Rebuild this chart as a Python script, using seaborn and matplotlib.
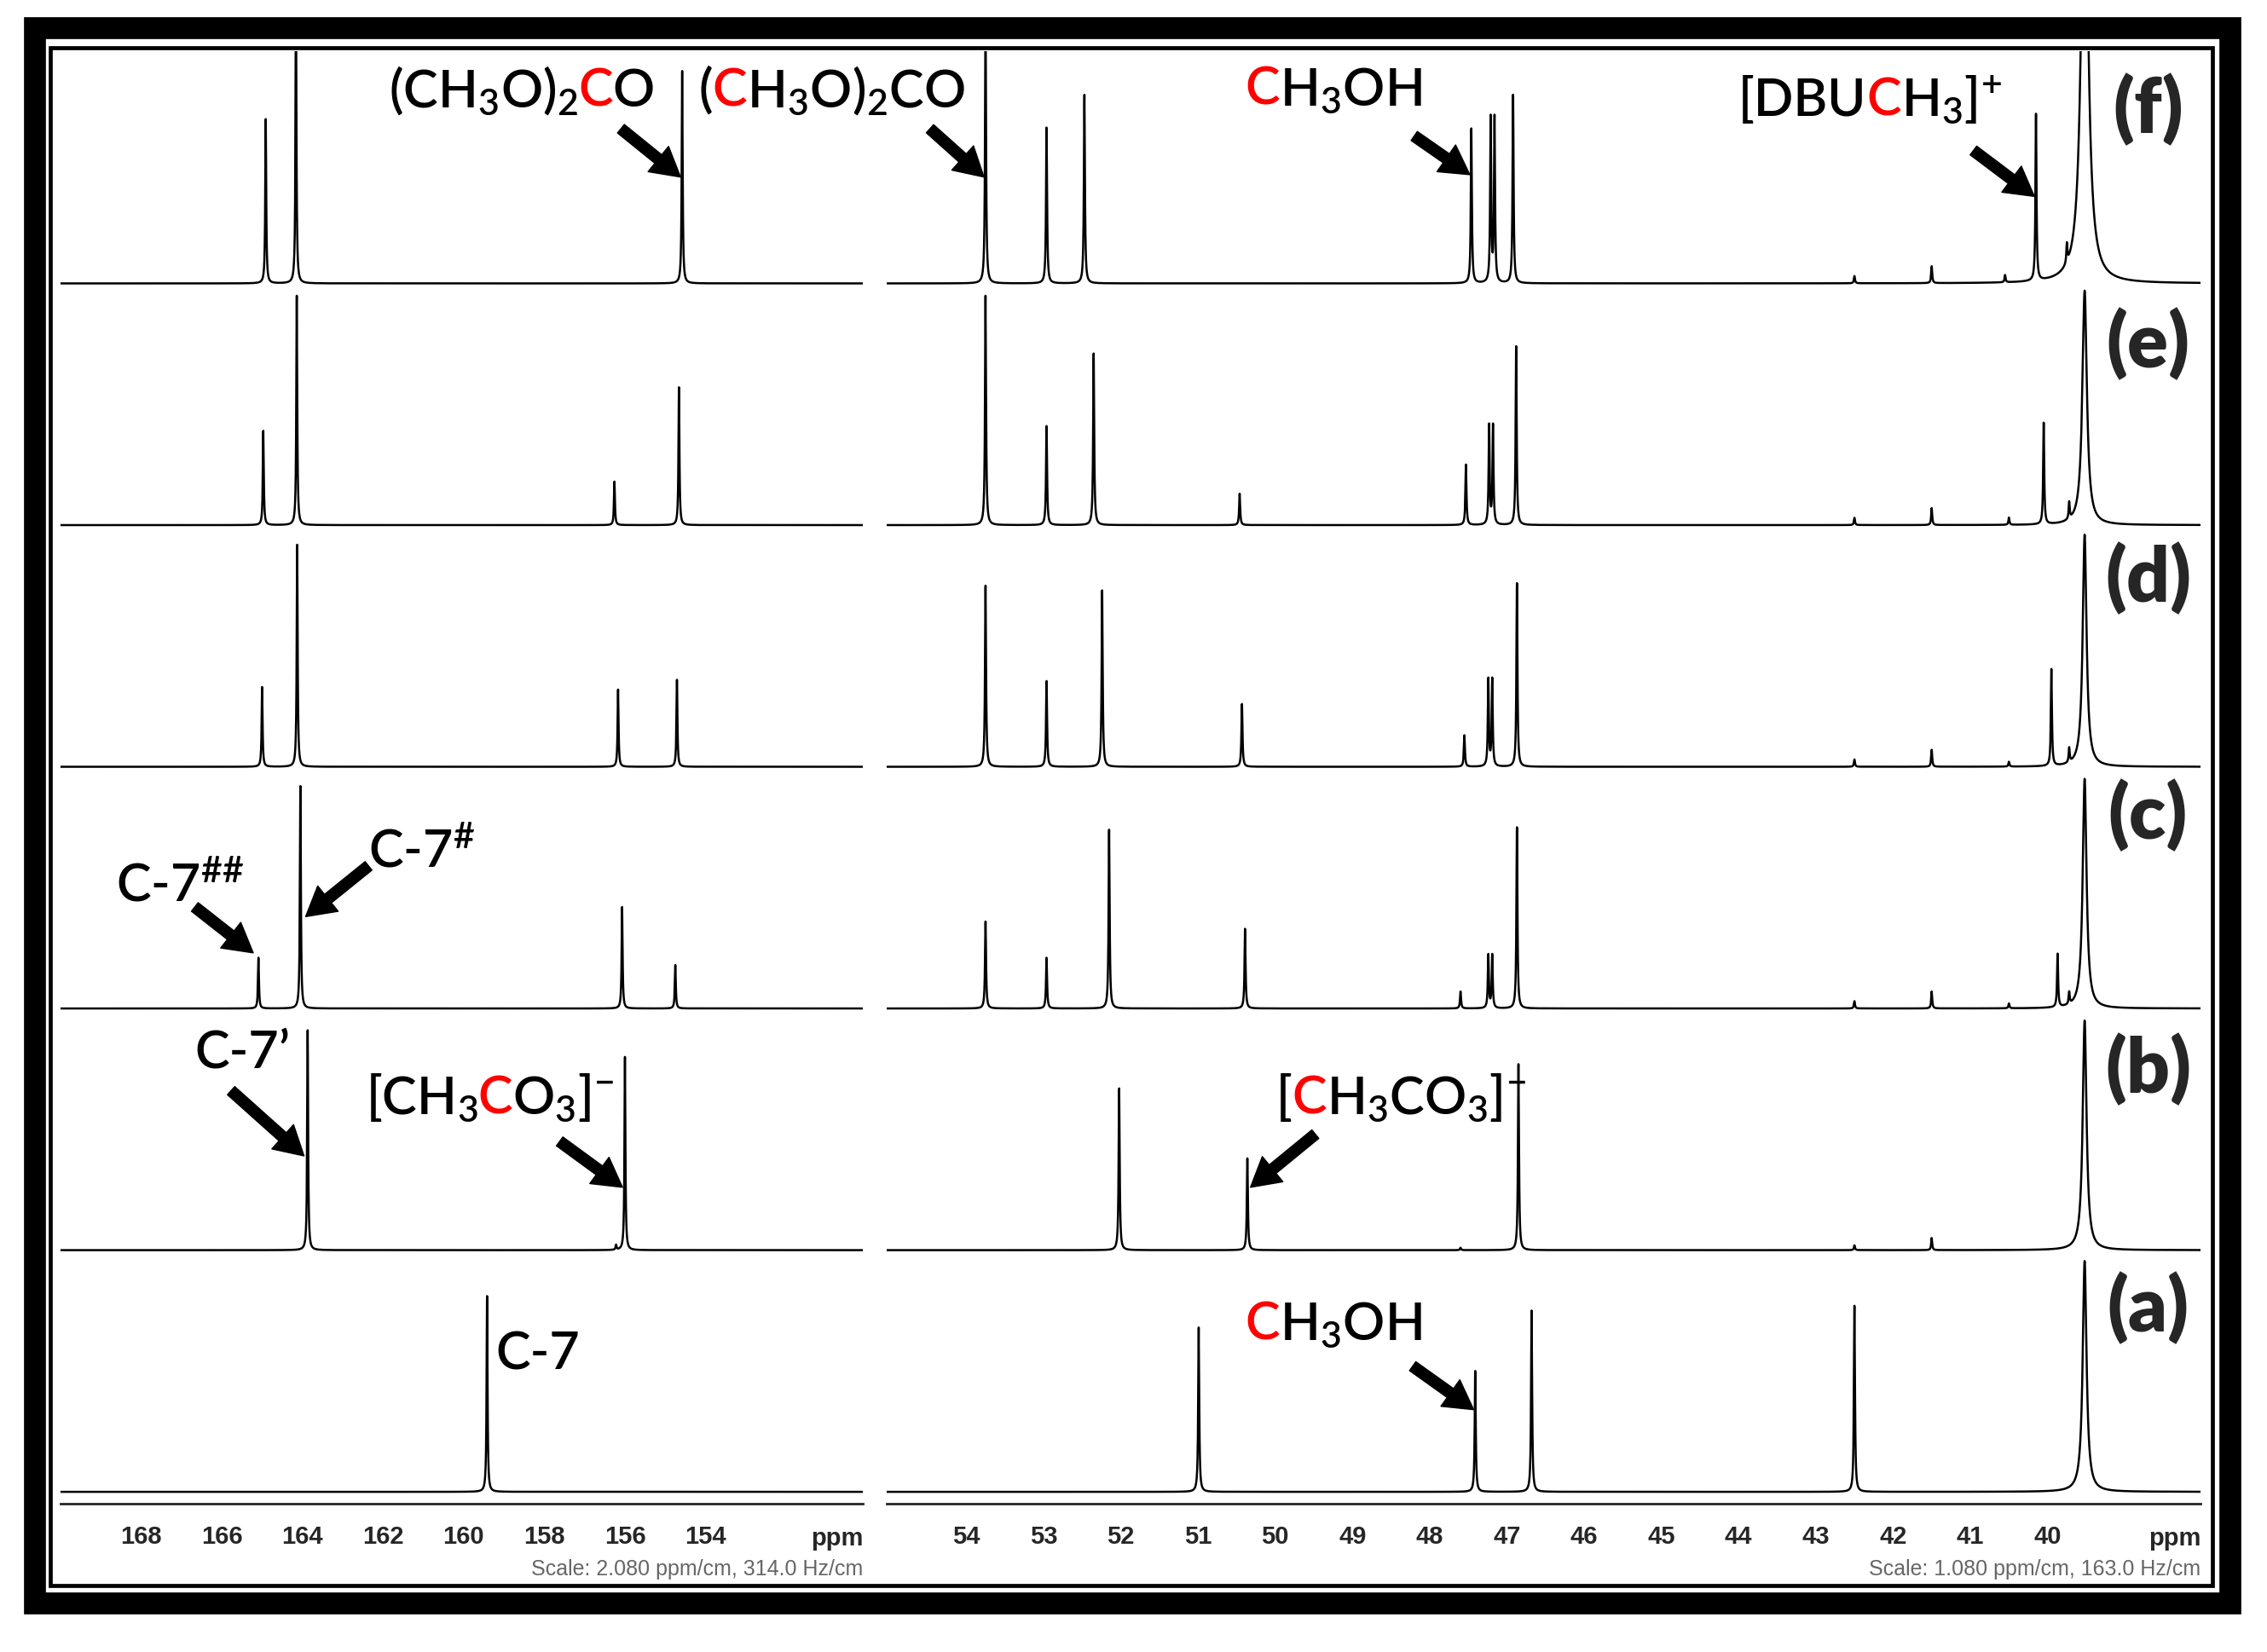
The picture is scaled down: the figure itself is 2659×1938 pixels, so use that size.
import numpy as np
import matplotlib
matplotlib.use("Agg")
import matplotlib.pyplot as plt
import seaborn as sns
from matplotlib.patches import Rectangle
from matplotlib.offsetbox import TextArea, HPacker, AnnotationBbox

# spectra from bottom (a) to top (f)
spec_labels = ["(a)", "(b)", "(c)", "(d)", "(e)", "(f)"]

# carbonyl region, peaks (ppm) and heights (1 = spacing between spectra)
left_ppm = [
    [159.42],
    [163.87, 156.00, 156.22],
    [165.09, 164.05, 156.07, 154.75],
    [165.00, 164.13, 156.17, 154.71],
    [164.97, 164.14, 156.26, 154.66],
    [164.91, 164.16, 154.58],
]
left_height = [
    [0.81],
    [0.91, 0.80, 0.02],
    [0.21, 0.92, 0.42, 0.18],
    [0.33, 0.92, 0.32, 0.36],
    [0.39, 0.95, 0.18, 0.57],
    [0.68, 1.20, 0.88],
]

# methyl region
right_ppm = [
    [50.99, 47.41, 46.68, 42.50],
    [52.02, 50.36, 46.85, 47.60, 42.50, 41.50],
    [53.75, 52.96, 52.15, 50.39, 47.60, 47.24, 47.19, 46.87, 42.50, 41.50, 40.50, 39.87, 39.72],
    [53.75, 52.96, 52.24, 50.43, 47.55, 47.24, 47.19, 46.87, 42.50, 41.50, 40.50, 39.95, 39.72],
    [53.75, 52.96, 52.35, 50.46, 47.53, 47.23, 47.18, 46.88, 42.50, 41.50, 40.50, 40.05, 39.72],
    [53.75, 52.96, 52.47, 47.46, 47.21, 47.16, 46.92, 42.50, 41.50, 40.55, 40.15, 39.75],
]
right_height = [
    [0.68, 0.50, 0.75, 0.77],
    [0.67, 0.38, 0.77, 0.01, 0.02, 0.05],
    [0.36, 0.21, 0.74, 0.33, 0.07, 0.22, 0.22, 0.75, 0.03, 0.07, 0.02, 0.22, 0.05],
    [0.75, 0.355, 0.73, 0.26, 0.13, 0.36, 0.36, 0.76, 0.03, 0.07, 0.02, 0.40, 0.06],
    [0.95, 0.41, 0.71, 0.13, 0.25, 0.41, 0.41, 0.74, 0.03, 0.07, 0.03, 0.42, 0.07],
    [1.10, 0.645, 0.78, 0.64, 0.68, 0.68, 0.78, 0.03, 0.07, 0.03, 0.69, 0.08],
]

# DMSO-d6 solvent signal
dmso_ppm = 39.52
dmso_height = [0.955, 0.95, 0.95, 0.96, 0.97, 2.0]
dmso_hwhm = [0.03, 0.03, 0.03, 0.03, 0.035, 0.05]

W, H = 2659, 1938
LABEL_FONT = ["Lato", "DejaVu Sans"]
TICK_FONT = ["Liberation Sans", "DejaVu Sans"]

sns.set_style("white")
plt.rcParams["mathtext.fontset"] = "custom"
plt.rcParams["mathtext.default"] = "regular"


def lorentz_sum(grid, ppm, height, hwhm):
    y = np.zeros_like(grid)
    for p, h in zip(ppm, height):
        y += h * hwhm ** 2 / ((grid - p) ** 2 + hwhm ** 2)
    return y


def box(x0, x1, ytop, ybot):
    return [x0 / W, 1 - ybot / H, (x1 - x0) / W, (ybot - ytop) / H]


fig = plt.figure(figsize=(W / 100, H / 100), dpi=100)
fig.patch.set_facecolor("white")

# frames
fig.add_artist(Rectangle((41 / W, 1 - 1881 / H), (2616 - 41) / W, (1881 - 33) / H,
                         transform=fig.transFigure, fill=False, lw=18.5, ec="black",
                         joinstyle="miter"))
fig.add_artist(Rectangle((59 / W, 1 - 1860 / H), (2595 - 59) / W, (1860 - 56) / H,
                         transform=fig.transFigure, fill=False, lw=3.4, ec="black",
                         joinstyle="miter"))

ax_l = fig.add_axes(box(71, 1012, 60, 1764))
ax_r = fig.add_axes(box(1040, 2581, 60, 1764))

grid_l = np.linspace(150.1, 170.0, 20001)
grid_r = np.linspace(38.02, 55.03, 34001)

for i in range(6):
    yl = i + lorentz_sum(grid_l, left_ppm[i], left_height[i], 0.014)
    sns.lineplot(x=grid_l, y=yl, ax=ax_l, color="black", lw=1.8,
                 estimator=None, sort=False)
    yr = i + lorentz_sum(grid_r, right_ppm[i], right_height[i], 0.008)
    yr += lorentz_sum(grid_r, [dmso_ppm], [dmso_height[i]], dmso_hwhm[i])
    sns.lineplot(x=grid_r, y=yr, ax=ax_r, color="black", lw=1.8,
                 estimator=None, sort=False)

ylim = (-0.049, 5.961)
for ax in (ax_l, ax_r):
    ax.set_ylim(*ylim)
    ax.set_facecolor("none")
    ax.set_yticks([])
    ax.set_xlabel("")
    ax.set_ylabel("")
    for side in ("top", "left", "right"):
        ax.spines[side].set_visible(False)
    ax.spines["bottom"].set_linewidth(2.0)
    ax.tick_params(axis="x", which="major", direction="out", length=12, width=1.6,
                   pad=6, labelsize=21)
    ax.tick_params(axis="x", which="minor", direction="out", length=5, width=1.2)

# left ruler
ax_l.set_xlim(170.0, 150.1)
l_major = [170, 168, 166, 164, 162, 160, 158, 156, 154, 152, 150.1]
l_labels = ["", "168", "166", "164", "162", "160", "158", "156", "154", "", ""]
ax_l.set_xticks(l_major, l_labels)
ax_l.set_xticks(list(range(151, 170, 2)), minor=True)

# right ruler
ax_r.set_xlim(55.03, 38.02)
r_major = list(range(55, 38, -1)) + [38.02]
r_labels = [""] + [str(v) for v in range(54, 39, -1)] + ["", ""]
ax_r.set_xticks(r_major, r_labels)
ax_r.set_xticks(np.round(np.arange(38.1, 55.0, 0.1), 2), minor=True)
ax_r.tick_params(axis="x", which="minor", length=4)

for ax, scale in ((ax_l, "Scale: 2.080 ppm/cm, 314.0 Hz/cm"),
                  (ax_r, "Scale: 1.080 ppm/cm, 163.0 Hz/cm")):
    for lab in ax.get_xticklabels():
        lab.set_fontfamily(TICK_FONT)
        lab.set_fontweight("bold")
    ax.text(1.0, -0.0285, "ppm", transform=ax.transAxes, ha="right", va="baseline",
            fontsize=21, fontweight="bold", family=TICK_FONT)
    ax.text(1.0, -0.0452, scale, transform=ax.transAxes, ha="right", va="center",
            fontsize=18, color="#666666", family=TICK_FONT)


def chem_label(ax, x, y, parts, size=44):
    areas = [TextArea(s, textprops=dict(color=c, fontsize=size, fontweight="semibold",
                                        family=LABEL_FONT)) for s, c in parts]
    pack = HPacker(children=areas, align="baseline", pad=0, sep=0)
    ab = AnnotationBbox(pack, (x, y), xycoords=ax.transData, frameon=False,
                        box_alignment=(0.5, 0.5), pad=0, annotation_clip=False)
    fig.add_artist(ab)


def arrow(ax, tail, head):
    ax.annotate("", xy=head, xytext=tail, xycoords="data", annotation_clip=False,
                arrowprops=dict(arrowstyle="simple,head_length=1.1,head_width=1.25,tail_width=0.42",
                                color="black", mutation_scale=22, shrinkA=0, shrinkB=0))


K, R = "black", "red"

# (f) labels
chem_label(ax_l, 158.56, 5.80, [("(CH$_3$O)$_2$", K), ("C", R), ("O", K)])
arrow(ax_l, (156.1, 5.64), (154.62, 5.44))
chem_label(ax_r, 55.74, 5.80, [("(", K), ("C", R), ("H$_3$O)$_2$CO", K)])
arrow(ax_r, (54.47, 5.64), (53.77, 5.44))
chem_label(ax_r, 49.25, 5.80, [("C", R), ("H$_3$OH", K)])
arrow(ax_r, (48.2, 5.61), (47.48, 5.45))
chem_label(ax_r, 42.3, 5.76, [("[DBU", K), ("C", R), ("H$_3$]$^{+}$", K)])
arrow(ax_r, (40.96, 5.55), (40.17, 5.36))

# (c) labels
chem_label(ax_l, 167.03, 2.51, [("C-7$^{\\#\\#}$", K)])
arrow(ax_l, (166.67, 2.42), (165.22, 2.23))
chem_label(ax_l, 161.03, 2.65, [("C-7$^{\\#}$", K)])
arrow(ax_l, (162.36, 2.59), (163.92, 2.38))

# (b) labels
chem_label(ax_l, 165.49, 1.82, [("C-7\u2019", K)])
arrow(ax_l, (165.77, 1.66), (163.96, 1.39))
chem_label(ax_l, 159.35, 1.63, [("[CH$_3$", K), ("C", R), ("O$_3$]$^{-}$", K)])
arrow(ax_l, (157.62, 1.45), (156.06, 1.26))
chem_label(ax_r, 48.37, 1.63, [("[", K), ("C", R), ("H$_3$CO$_3$]$^{-}$", K)])
arrow(ax_r, (49.48, 1.48), (50.32, 1.26))

# (a) labels
chem_label(ax_l, 158.16, 0.57, [("C-7", K)])
chem_label(ax_r, 49.25, 0.69, [("C", R), ("H$_3$OH", K)])
arrow(ax_r, (48.22, 0.52), (47.43, 0.34))

# spectrum letters
letter_y = [0.76, 1.75, 2.80, 3.78, 4.75, 5.72]
for lab, y in zip(spec_labels, letter_y):
    ax_r.text(38.70, y, lab, ha="center", va="center", fontsize=64,
              fontweight="heavy", family=LABEL_FONT)

fig.savefig("out.png", dpi=100)
